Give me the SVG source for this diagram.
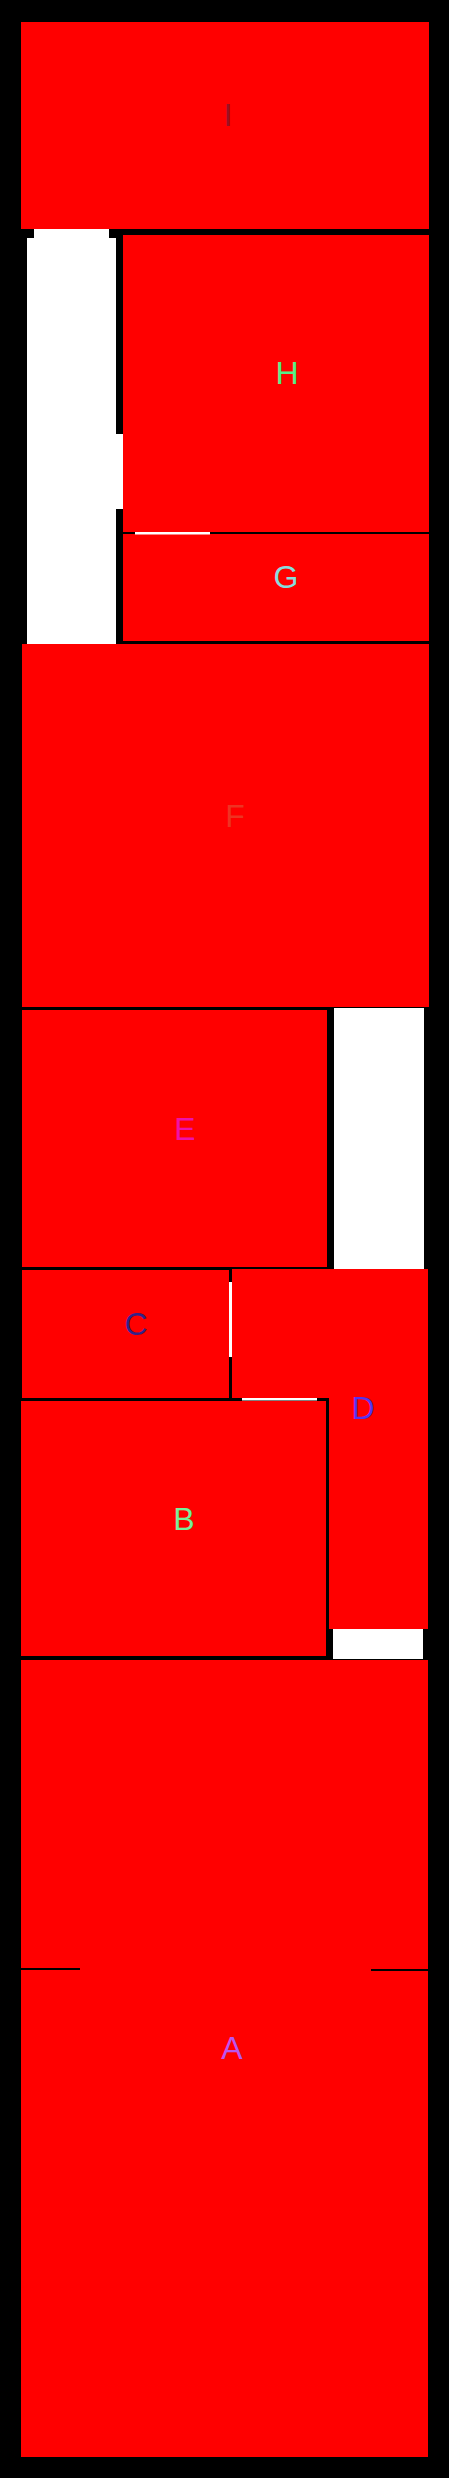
<svg xmlns="http://www.w3.org/2000/svg" width="449" height="2478" viewBox="0 0 449 2478">
<style>
.room{fill:#ff0000}
.void{fill:#ffffff}
.wall{fill:#000000}
.lbl{font-family:"Liberation Sans",Arial,sans-serif;font-size:32px;text-anchor:middle}
</style>
<rect x="0" y="0" width="449" height="2478" fill="#000000"/>
<g id="voids">
<path class="void" d="M34,229 H109 V238 H116 V434 H123 V509 H116 V645 H27 V238 H34 Z"/>
<rect class="void" x="334" y="1008" width="90" height="261"/>
<rect class="void" x="333" y="1629" width="90" height="30"/>
</g>
<g id="room-I">
<rect class="room" x="21" y="22" width="408" height="207"/>
<text class="lbl" x="228" y="126" fill="#991122">I</text>
</g>
<g id="room-H">
<rect class="room" x="123" y="235" width="306" height="297"/>
<text class="lbl" x="287" y="384" fill="#55ee88">H</text>
</g>
<g id="room-G">
<rect class="room" x="123" y="534" width="306" height="107"/>
<text class="lbl" x="286" y="588" fill="#88dddd">G</text>
</g>
<g id="room-F">
<rect class="room" x="22" y="644" width="407" height="363"/>
<text class="lbl" x="235" y="827" fill="#ee3322">F</text>
</g>
<g id="room-E">
<rect class="room" x="22" y="1010" width="305" height="257"/>
<text class="lbl" x="185" y="1140" fill="#ee11aa">E</text>
</g>
<g id="room-C">
<rect class="room" x="22" y="1270" width="207" height="128"/>
<text class="lbl" x="136" y="1335" fill="#332288">C</text>
</g>
<g id="room-D">
<path class="room" d="M232,1269 H428 V1629 H329 V1398 H232 Z"/>
<text class="lbl" x="363" y="1419" fill="#5533ee">D</text>
</g>
<g id="room-B">
<rect class="room" x="21" y="1401" width="305" height="255"/>
<text class="lbl" x="184" y="1530" fill="#77ee99">B</text>
</g>
<g id="room-A">
<rect class="room" x="21" y="1660" width="407" height="797"/>
<text class="lbl" x="232" y="2059" fill="#bb55ee">A</text>
</g>
<g id="connectors">
<rect class="void" x="135" y="532" width="75" height="2.5"/>
<rect class="void" x="229" y="1282" width="3" height="75"/>
<rect class="void" x="242" y="1398" width="75" height="2.5"/>
<rect class="wall" x="21" y="1968" width="59" height="2"/>
<rect class="wall" x="371" y="1969" width="57" height="2"/>
</g>
</svg>
